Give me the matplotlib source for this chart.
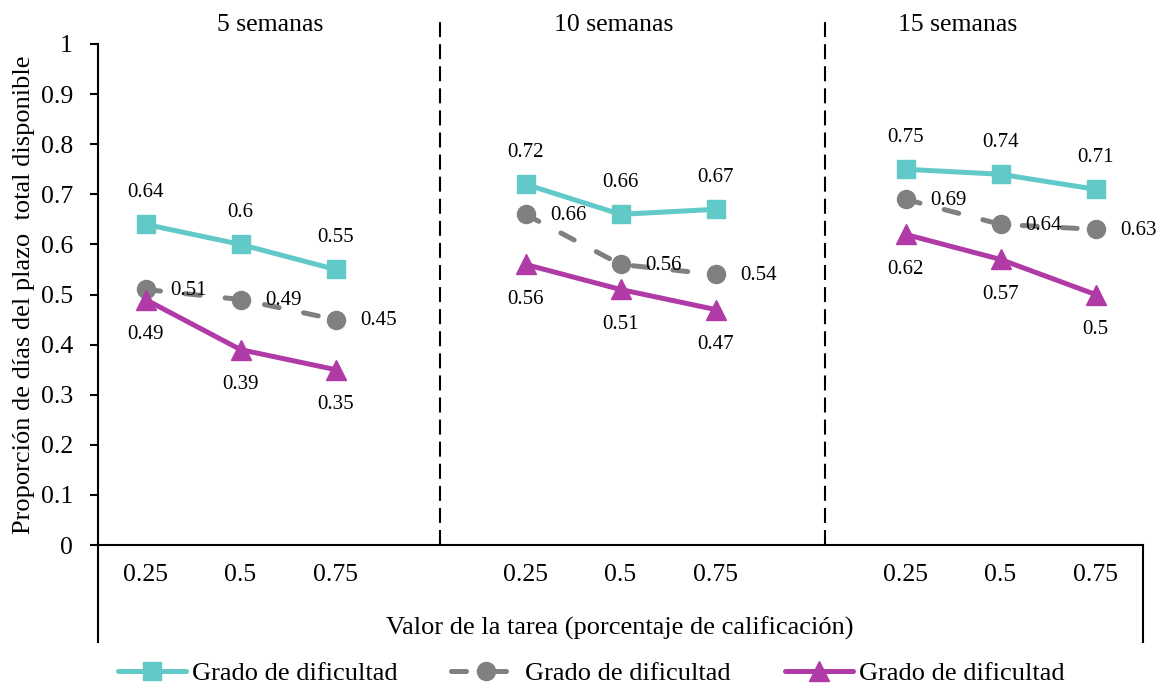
import matplotlib
matplotlib.use("Agg")
import matplotlib.pyplot as plt

# Data: proportion of available days used, by task weight and deadline length
groups = ["5 semanas", "10 semanas", "15 semanas"]
task_values = ["0.25", "0.5", "0.75"]
series_names = ["Grado de dificultad", "Grado de dificultad", "Grado de dificultad"]

cyan_vals = [0.64, 0.60, 0.55, 0.72, 0.66, 0.67, 0.75, 0.74, 0.71]
gray_vals = [0.51, 0.49, 0.45, 0.66, 0.56, 0.54, 0.69, 0.64, 0.63]
magenta_vals = [0.49, 0.39, 0.35, 0.56, 0.51, 0.47, 0.62, 0.57, 0.50]

y_ticks = [0, 0.1, 0.2, 0.3, 0.4, 0.5, 0.6, 0.7, 0.8, 0.9, 1]
y_tick_labels = ["0", "0.1", "0.2", "0.3", "0.4", "0.5", "0.6", "0.7", "0.8", "0.9", "1"]

plt.rcParams["font.family"] = ["Liberation Serif", "DejaVu Serif"]

CYAN = "#62C9C9"
GRAY = "#808080"
MAGENTA = "#B03AA6"

W, H = 1159, 687
fig = plt.figure(figsize=(W / 100, H / 100), dpi=100)
left_px, right_px, top_px, bottom_px = 98, 1143, 44, 545
ax = fig.add_axes([left_px / W, 1 - bottom_px / H,
                   (right_px - left_px) / W, (bottom_px - top_px) / H])

# slot positions: three per group, one empty slot between groups
xpos = []
for g in range(len(groups)):
    for i in range(len(task_values)):
        xpos.append(g * 4 + i)

def draw_segments(vals, **kw):
    handle = None
    for g in range(len(groups)):
        xs = xpos[g * 3:(g + 1) * 3]
        ys = vals[g * 3:(g + 1) * 3]
        (handle,) = ax.plot(xs, ys, clip_on=False, **kw)
    return handle

lw = 3.6
h1 = draw_segments(cyan_vals, color=CYAN, lw=lw, marker="s", ms=13,
                   solid_capstyle="round", zorder=4)
h2 = draw_segments(gray_vals, color=GRAY, lw=lw, marker="o", ms=13,
                   linestyle=(0, (3, 5)), dash_capstyle="round", zorder=3)
h3 = draw_segments(magenta_vals, color=MAGENTA, lw=lw, marker="^", ms=14,
                   solid_capstyle="round", zorder=5)

lab_fs = 15
for x, v in zip(xpos, cyan_vals):
    ax.annotate(f"{v:g}", (x, v), xytext=(0, 23), textcoords="offset points",
                ha="center", va="center", fontsize=lab_fs, zorder=6)
for x, v in zip(xpos, gray_vals):
    ax.annotate(f"{v:g}", (x, v), xytext=(31, -0.8), textcoords="offset points",
                ha="center", va="center", fontsize=lab_fs, zorder=6,
                annotation_clip=False)
for x, v in zip(xpos, magenta_vals):
    ax.annotate(f"{v:g}", (x, v), xytext=(0, -25), textcoords="offset points",
                ha="center", va="center", fontsize=lab_fs, zorder=6)

ax.set_xlim(-0.5, 10.5)
ax.set_ylim(0, 1)

# axes styling
for s in ("top", "right"):
    ax.spines[s].set_visible(False)
ax.spines["left"].set_linewidth(1.5)
ax.spines["bottom"].set_linewidth(1.5)
ax.set_yticks(y_ticks)
ax.set_yticklabels(y_tick_labels)
ax.tick_params(axis="y", length=6, width=1.5, pad=12, labelsize=18.5, direction="out")
ax.set_xticks(xpos)
ax.set_xticklabels(task_values * len(groups))
ax.tick_params(axis="x", length=0, pad=14, labelsize=18.5)

# extended frame below the category axis
y_low = -0.194
ax.plot([-0.5, -0.5], [0, y_low], color="black", lw=1.5, clip_on=False)
ax.plot([10.5, 10.5], [0, y_low], color="black", lw=1.5, clip_on=False)

# group separators
for xs in (3.1, 7.15):
    ax.plot([xs, xs], [0, 1.043], color="black", lw=1.5, linestyle=(0, (7.2, 3.4)),
            clip_on=False)

# group titles
for gx, name in zip((1.31, 4.93, 8.55), groups):
    ax.text(gx, 1.038, name, ha="center", va="center", fontsize=18.5)

fig.text(620 / W, 1 - 628 / H, "Valor de la tarea (porcentaje de calificación)",
         ha="center", va="center", fontsize=19)
fig.text(24 / W, 1 - 295 / H, "Proporción de días del plazo  total disponible",
         ha="center", va="center", rotation=90, fontsize=19)

leg = fig.legend([h1, h2, h3], series_names, loc="center",
                 bbox_to_anchor=(591 / W, 1 - 673 / H), ncol=3, frameon=False,
                 fontsize=19, handlelength=2.6, handletextpad=0.2,
                 columnspacing=2.05, borderaxespad=0)

fig.savefig("out.png", dpi=100)
